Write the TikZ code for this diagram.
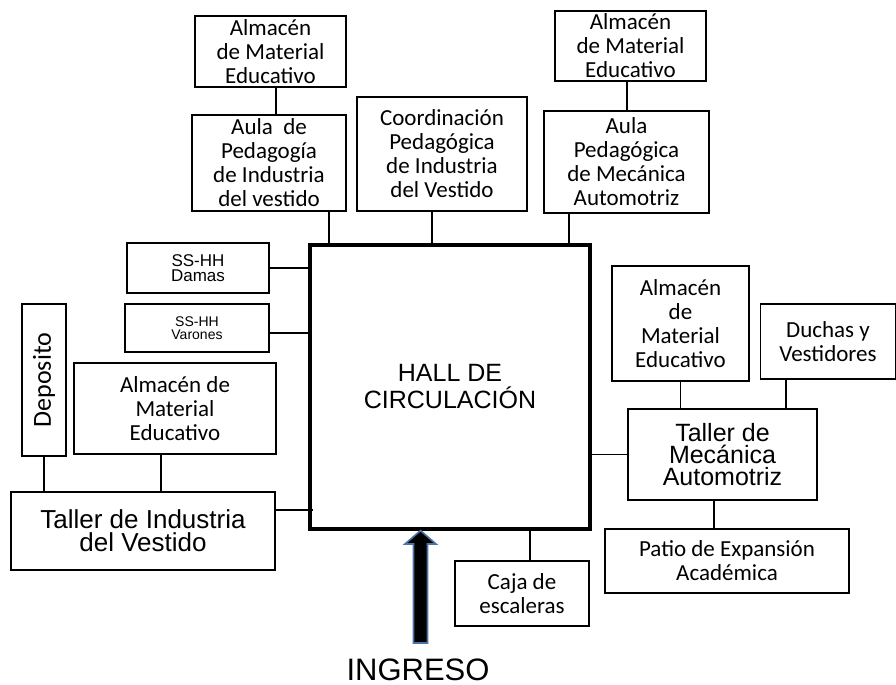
\documentclass[tikz,border=0pt]{standalone}
\usepackage{fontspec}
\usepackage{graphicx}
\setmainfont{Carlito}
\newfontfamily\arialfont{Liberation Sans}
\usetikzlibrary{calc}
\definecolor{ingressblue}{RGB}{75,115,165}
\newcommand{\calibrisize}{\fontsize{11.5}{12}\selectfont}

\begin{document}
\begin{tikzpicture}[x=0.5pt, y=-0.5pt,
    room/.style={draw, line width=1pt, align=center, inner sep=0pt, font=\calibrisize},
    lightroom/.style={room, line width=0.6pt},
    link/.style={line width=0.6pt}]
    \useasboundingbox (0,0) rectangle (896,685);

    % Nodes
    \node (hall) at (450, 387) [room, line width=1.6pt, minimum width=140pt, minimum height=142pt, font=\arialfont\fontsize{12.5}{13.5}\selectfont] {HALL DE\\CIRCULACIÓN};

    \node (almTL) at (270.5, 51.5) [room, minimum width=75.5pt, minimum height=35.5pt] {Almacén\\de Material\\Educativo};
    \node (aulaInd) at (269, 163) [room, minimum width=77pt, minimum height=48pt] {Aula\ \ de\\Pedagogía\\de Industria\\del vestido};
    \node (coord) at (442, 154) [room, minimum width=85pt, minimum height=57pt] {Coordinación\\Pedagógica\\de Industria\\del Vestido};
    \node (almTR) at (630.5, 46) [room, minimum width=75.5pt, minimum height=35pt] {Almacén\\de Material\\Educativo};
    \node (aulaMec) at (626.5, 162) [room, minimum width=82.5pt, minimum height=51pt] {Aula\\Pedagógica\\de Mecánica\\Automotriz};

    \node (damas) at (198, 268) [room, minimum width=71pt, minimum height=25pt, font=\arialfont\fontsize{8.5}{7.5}\selectfont] {SS-HH\\Damas};
    \node (varones) at (197, 328) [room, minimum width=72pt, minimum height=24pt, font=\arialfont\fontsize{7}{6.2}\selectfont] {SS-HH\\Varones};

    \node (deposito) at (44, 380) [room, minimum width=22pt, minimum height=76pt, font=\fontsize{13}{14}\selectfont] {\rotatebox{90}{Deposito}};
    \node (almL) at (175, 408.5) [room, minimum width=101pt, minimum height=45.5pt] {Almacén de\\Material\\Educativo};
    \node (tallerInd) at (143, 531) [room, minimum width=132pt, minimum height=39pt, font=\arialfont\fontsize{13}{11.5}\selectfont] {Taller de Industria\\del Vestido};

    \node (almR) at (680.5, 323.5) [lightroom, minimum width=68.5pt, minimum height=57.5pt] {Almacén\\de\\Material\\Educativo};
    \node (duchas) at (828, 341.5) [lightroom, minimum width=67.5pt, minimum height=37.5pt] {Duchas y\\Vestidores};
    \node (tallerMec) at (722.5, 454.5) [room, line width=1.2pt, minimum width=94.5pt, minimum height=45.5pt, font=\arialfont\fontsize{12.5}{11.2}\selectfont] {Taller de\\Mecánica\\Automotriz};
    \node (patio) at (727, 561) [lightroom, minimum width=122pt, minimum height=32pt] {Patio de Expansión\\Académica};
    \node (caja) at (522, 593.5) [lightroom, minimum width=67pt, minimum height=32.5pt] {Caja de\\escaleras};

    \node (ingreso) at (418, 670) [font=\arialfont\fontsize{15.5}{18}\selectfont] {INGRESO};
    \coordinate (entry) at (420.5, 643);

    % Edges
    \coordinate (k1) at ($(almTL.south)+(5.5,0)$);
    \draw[link] (k1) -- (k1 |- aulaInd.north);
    \coordinate (k2) at ($(aulaInd.south east)+(-18,0)$);
    \draw[link] (k2) -- (k2 |- hall.north);
    \coordinate (k3) at ($(coord.south)+(-10,0)$);
    \draw[link] (k3) -- (k3 |- hall.north);
    \coordinate (k4) at ($(almTR.south)+(-3.5,0)$);
    \draw[link] (k4) -- (k4 |- aulaMec.north);
    \coordinate (k5) at ($(aulaMec.south west)+(26,0)$);
    \draw[link] (k5) -- (k5 |- hall.north);

    \draw[link] (damas.east) -- (damas.east -| hall.west);
    \coordinate (k6) at ($(varones.east)+(0,5)$);
    \draw[link] (k6) -- (k6 -| hall.west);

    \draw[link] (deposito.south) -- (deposito.south |- tallerInd.north);
    \coordinate (k7) at ($(almL.south)+(-14,0)$);
    \draw[link] (k7) -- (k7 |- tallerInd.north);
    \coordinate (k8) at ($(tallerInd.east)+(0,-21)$);
    \draw[link, shorten >=-2.5pt] (k8) -- (k8 -| hall.west);

    \draw[link] (hall.east |- tallerMec.west) -- (tallerMec.west);
    \draw[link] (almR.south) -- (almR.south |- tallerMec.north);
    \coordinate (k9) at ($(duchas.south)+(-42,0)$);
    \draw[link] (k9) -- (k9 |- tallerMec.north);
    \coordinate (k10) at ($(tallerMec.south)+(-8.5,0)$);
    \draw[link] (k10) -- (k10 |- patio.north);
    \coordinate (k11) at ($(caja.north)+(8,0)$);
    \draw[link] (k11) -- (k11 |- hall.south);

    % entrance arrow
    \draw[fill=black, draw=ingressblue, line width=0.8pt, line join=miter]
        ($(entry)+(-7,0)$) -- ($(entry)+(-7,-99)$) -- ($(entry)+(-15.5,-99)$)
        -- (entry |- hall.south) -- ($(entry)+(15.5,-99)$) -- ($(entry)+(7,-99)$)
        -- ($(entry)+(7,0)$) -- cycle;

\end{tikzpicture}
\end{document}
